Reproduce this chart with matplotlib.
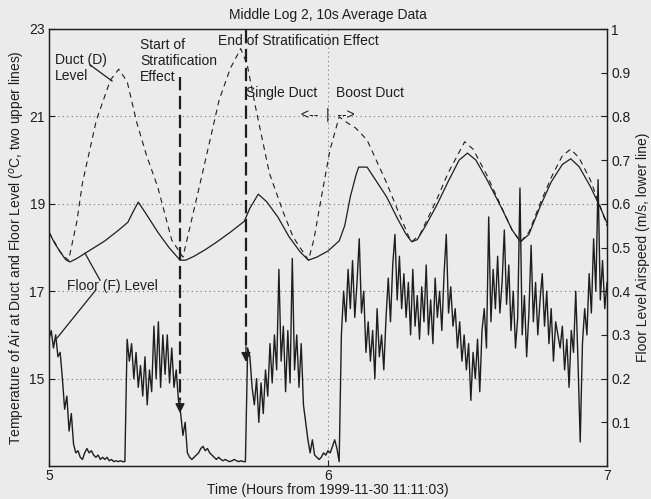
import numpy as np
import matplotlib
matplotlib.use("Agg")
import matplotlib.pyplot as plt

plt.rcParams['font.family'] = ['Liberation Sans', 'DejaVu Sans']

# ---- Floor level temperature (solid, left axis) ----
floor_t = [5.000, 5.02, 5.04, 5.06, 5.075, 5.10, 5.15, 5.20, 5.25, 5.283, 5.30, 5.32,
           5.35, 5.39, 5.43, 5.46, 5.47, 5.49, 5.52, 5.56, 5.60, 5.65, 5.70, 5.72,
           5.75, 5.78, 5.82, 5.86, 5.90, 5.93, 5.96, 6.00, 6.04, 6.06, 6.08, 6.10,
           6.11, 6.14, 6.17, 6.21, 6.25, 6.28, 6.30, 6.32, 6.35, 6.39, 6.43, 6.47,
           6.50, 6.53, 6.57, 6.62, 6.66, 6.69, 6.72, 6.76, 6.80, 6.84, 6.87, 6.90,
           6.94, 6.975, 7.0]
floor_temp = [18.35, 18.1, 17.9, 17.72, 17.67, 17.75, 17.95, 18.15, 18.4, 18.58, 18.8, 19.04,
              18.75, 18.35, 18.0, 17.78, 17.71, 17.71, 17.8, 17.95, 18.12, 18.35, 18.6, 18.9,
              19.22, 19.05, 18.7, 18.25, 17.9, 17.71, 17.78, 17.92, 18.15, 18.5, 19.16, 19.65,
              19.84, 19.84, 19.55, 19.16, 18.65, 18.3, 18.13, 18.18, 18.5, 18.97, 19.5, 20.0,
              20.16, 20.0, 19.55, 18.93, 18.4, 18.13, 18.3, 18.93, 19.5, 19.9, 20.03, 19.85,
              19.4, 18.93, 18.56]

# ---- Duct level temperature (dashed, left axis) ----
duct_t = [5.00, 5.04, 5.07, 5.10, 5.12, 5.17, 5.22, 5.25, 5.28, 5.315, 5.35, 5.39,
          5.44, 5.48, 5.51, 5.55, 5.61, 5.65, 5.687, 5.71, 5.74, 5.79, 5.84, 5.875,
          5.93, 5.95, 5.97, 6.007, 6.04, 6.07, 6.10, 6.14, 6.21, 6.25, 6.29, 6.30,
          6.33, 6.39, 6.43, 6.49, 6.52, 6.57, 6.62, 6.66, 6.69, 6.72, 6.76, 6.80,
          6.84, 6.87, 6.90, 6.94, 6.975, 7.0]
duct_temp = [18.35, 17.9, 17.7, 18.6, 19.48, 20.92, 21.83, 22.08, 21.8, 20.85, 20.1, 19.38,
             18.17, 17.78, 18.6, 19.7, 21.38, 22.1, 22.55, 22.2, 21.22, 19.7, 18.8, 18.24,
             17.71, 18.2, 18.93, 20.23, 20.99, 20.85, 20.73, 20.46, 19.48, 18.85, 18.24, 18.13,
             18.3, 19.1, 19.7, 20.42, 20.25, 19.65, 18.95, 18.4, 18.13, 18.35, 19.0, 19.6,
             20.1, 20.25, 20.05, 19.55, 18.95, 18.5]

# ---- Floor level airspeed (right axis), sampled every 0.008 h from 5 to 7 ----
airspeed = [
    0.29, 0.31, 0.27, 0.30, 0.25, 0.26, 0.20, 0.13, 0.16, 0.08,
    0.12, 0.05, 0.03, 0.035, 0.02, 0.015, 0.03, 0.04, 0.03, 0.035,
    0.025, 0.02, 0.025, 0.015, 0.02, 0.015, 0.02, 0.012, 0.015, 0.01,
    0.012, 0.01, 0.012, 0.01, 0.01,
    0.29, 0.24, 0.28, 0.20, 0.26, 0.18, 0.23, 0.16, 0.25, 0.14,
    0.22, 0.17, 0.32, 0.20, 0.33, 0.18, 0.30, 0.21, 0.30, 0.19,
    0.27, 0.18, 0.22, 0.15, 0.12, 0.07, 0.10, 0.03,
    0.02, 0.015, 0.02, 0.025, 0.03, 0.04, 0.045, 0.035, 0.04, 0.03,
    0.025, 0.02, 0.015, 0.02, 0.015, 0.012, 0.015, 0.012, 0.01, 0.012,
    0.015, 0.012, 0.01, 0.012, 0.01, 0.01,
    0.27, 0.25, 0.18, 0.14, 0.20, 0.10, 0.19, 0.12, 0.22, 0.16,
    0.28, 0.19, 0.30, 0.22, 0.45, 0.24, 0.32, 0.17, 0.31, 0.19,
    0.475, 0.22, 0.30, 0.18, 0.28, 0.14, 0.10, 0.06,
    0.03, 0.06, 0.025, 0.02, 0.015, 0.02, 0.03, 0.025, 0.035, 0.03,
    0.045, 0.06, 0.04, 0.01,
    0.30, 0.40, 0.33, 0.45, 0.36, 0.47, 0.34, 0.42, 0.52, 0.35,
    0.40, 0.26, 0.33, 0.24, 0.31, 0.20, 0.36, 0.25, 0.30, 0.22,
    0.34, 0.43, 0.33, 0.46, 0.53, 0.38, 0.48, 0.36, 0.44, 0.34,
    0.42, 0.30, 0.45, 0.32, 0.39, 0.29, 0.41, 0.33, 0.46, 0.30,
    0.38, 0.28, 0.43, 0.34, 0.40, 0.31, 0.44, 0.53, 0.35, 0.41,
    0.32, 0.36, 0.27, 0.33, 0.24, 0.30, 0.22, 0.28, 0.15, 0.26,
    0.20, 0.29, 0.17, 0.31, 0.36, 0.27, 0.57, 0.33, 0.45, 0.36,
    0.48, 0.35, 0.42, 0.54, 0.37, 0.46, 0.31, 0.40, 0.27, 0.34,
    0.636, 0.30, 0.39, 0.25, 0.35, 0.505, 0.33, 0.42, 0.30, 0.38,
    0.44, 0.32, 0.40, 0.28, 0.36, 0.24, 0.33, 0.30, 0.27, 0.32,
    0.22, 0.29, 0.18, 0.31, 0.26, 0.40, 0.24, 0.055, 0.28, 0.36,
    0.30, 0.44, 0.35, 0.52, 0.40, 0.655, 0.38, 0.47, 0.36, 0.42,
]
air_t = np.linspace(5.0, 7.0, len(airspeed))

left_ticks = [15, 17, 19, 21, 23]
right_ticks = [0.1, 0.2, 0.3, 0.4, 0.5, 0.6, 0.7, 0.8, 0.9, 1.0]
right_labels = ['0.1', '0.2', '0.3', '0.4', '0.5', '0.6', '0.7', '0.8', '0.9', '1']
x_ticks = [5, 6, 7]

bg = '#ebebeb'
ink = '#1e1e1e'

fig = plt.figure(figsize=(6.51, 4.99), dpi=100, facecolor=bg)
ax = fig.add_axes([49/651, 1-466/499, (607-49)/651, (466-29)/499])
ax.set_facecolor(bg)
ax2 = ax.twinx()

ax.set_xlim(5, 7)
ax.set_ylim(13, 23)
ax2.set_ylim(0, 1)

# grid
for y in [15, 17, 19, 21]:
    ax.axhline(y, color='#777777', lw=0.8, ls=(0, (1, 3)), zorder=0)
ax.axvline(6, color='#777777', lw=0.8, ls=(0, (1, 3)), zorder=0)

ax.plot(floor_t, floor_temp, color=ink, lw=0.9)
ax.plot(duct_t, duct_temp, color=ink, lw=0.8, ls=(0, (5, 4)))
ax2.plot(air_t, airspeed, color=ink, lw=1.0)

ax.set_xticks(x_ticks)
ax.set_yticks(left_ticks)
ax2.set_yticks(right_ticks)
ax2.set_yticklabels(right_labels)
for a in (ax, ax2):
    a.tick_params(direction='in', length=4, width=0.8, labelsize=10, colors=ink, pad=3)
    for s in a.spines.values():
        s.set_color(ink)
        s.set_linewidth(0.9)
ax.tick_params(axis='x', pad=2)

ax.set_xlabel('Time (Hours from 1999-11-30 11:11:03)', fontsize=10, color=ink)
ax.xaxis.set_label_coords(0.5, -0.040)
ax.set_ylabel('Temperature of Air at Duct and Floor Level ($^o$C, two upper lines)',
              fontsize=10, color=ink)
ax.yaxis.set_label_coords(-0.040, 0.5)
ax2.set_ylabel('Floor Level Airspeed (m/s, lower line)', fontsize=10, color=ink)
ax2.yaxis.set_label_coords(1.052, 0.5)
ax.set_title('Middle Log 2, 10s Average Data', fontsize=10, color=ink, pad=7)

# annotations
fs = 10
ax.text(5.022, 22.45, 'Duct (D)\nLevel', fontsize=fs, color=ink, va='top', ha='left', linespacing=1.15)
ax.plot([5.147, 5.226], [22.18, 21.81], color=ink, lw=0.9)
ax.text(5.326, 22.80, 'Start of\nStratification\nEffect', fontsize=fs, color=ink,
        va='top', ha='left', linespacing=1.2)
ax.text(5.606, 22.88, 'End of Stratification Effect', fontsize=fs, color=ink, va='top', ha='left')
ax.text(5.706, 21.7, 'Single Duct', fontsize=fs, color=ink, va='top', ha='left')
ax.text(6.029, 21.7, 'Boost Duct', fontsize=fs, color=ink, va='top', ha='left')
ax.text(6.0, 21.03, '<--  |  -->', fontsize=fs, color=ink, va='center', ha='center')
ax.text(5.065, 17.12, 'Floor (F) Level', fontsize=fs, color=ink, va='center', ha='left')
ax.plot([5.129, 5.183], [17.87, 17.25], color=ink, lw=0.9)
ax.plot([5.168, 5.029], [17.03, 15.93], color=ink, lw=0.9)

# stratification arrows
for xa, ytop, ytip in [(5.4695, 21.9, 14.21), (5.706, 22.98, 15.38)]:
    ax.plot([xa, xa], [ytop, ytip + 0.3], color=ink, lw=1.6, ls=(0, (6, 2.5)))
    ax.annotate('', xy=(xa, ytip), xytext=(xa, ytip + 0.35),
                arrowprops=dict(arrowstyle='-|>', color=ink, lw=1.0,
                                mutation_scale=14, shrinkA=0, shrinkB=0))

fig.savefig('out.png', dpi=100, facecolor=bg)
